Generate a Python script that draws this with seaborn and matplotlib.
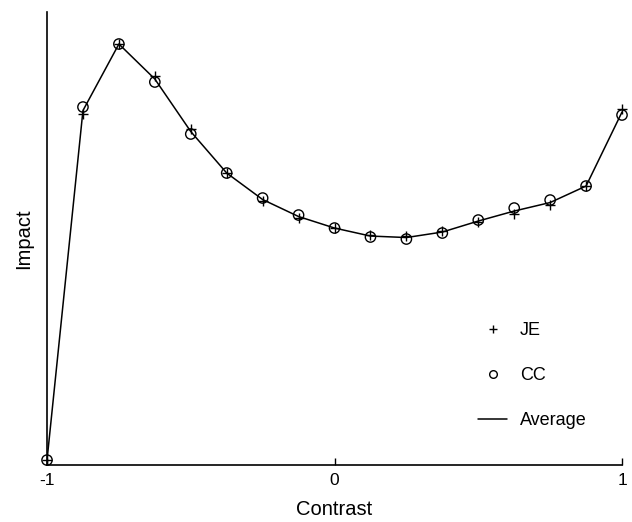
import numpy as np
import pandas as pd
import matplotlib
matplotlib.use("Agg")
import matplotlib.pyplot as plt
import seaborn as sns
from matplotlib.lines import Line2D

contrast = [-1, -0.875, -0.75, -0.625, -0.5, -0.375, -0.25, -0.125, 0,
            0.125, 0.25, 0.375, 0.5, 0.625, 0.75, 0.875, 1]
je = [0, 3.46, 4.16, 3.84, 3.31, 2.87, 2.59, 2.42, 2.32,
      2.25, 2.24, 2.29, 2.38, 2.46, 2.55, 2.74, 3.51]
cc = [0, 3.53, 4.16, 3.78, 3.26, 2.87, 2.62, 2.45, 2.32,
      2.23, 2.21, 2.27, 2.40, 2.52, 2.60, 2.74, 3.45]


def main():
    sns.set_style("ticks")
    plt.rcParams['font.family'] = ['Liberation Sans', 'DejaVu Sans']

    df = pd.DataFrame({'contrast': contrast, 'JE': je, 'CC': cc})
    df['Average'] = (df['JE'] + df['CC']) / 2

    fig = plt.figure(figsize=(6.32, 5.22), dpi=100)
    ax = fig.add_axes([0.0744, 0.110, 0.9098, 0.867])

    sns.lineplot(x='contrast', y='Average', data=df, color='black',
                 linewidth=1.1, ax=ax)
    sns.scatterplot(x='contrast', y='JE', data=df, marker='+', color='black',
                    s=60, linewidth=1.0, ax=ax, clip_on=False, zorder=4)
    ax.scatter(df['contrast'], df['CC'], marker='o', facecolors='none',
               edgecolors='black', s=55, linewidths=1.0, zorder=3, clip_on=False)

    ax.set_xlim(-1, 1)
    ax.set_ylim(-0.045, 4.48)
    ax.set_xticks([-1, 0, 1])
    ax.set_xticklabels(['-1', '0', '1'])
    ax.set_yticks([])
    ax.tick_params(axis='x', direction='in', length=5, width=1, labelsize=12.5,
                   pad=6, colors='black')
    sns.despine(ax=ax)
    for sp in ['left', 'bottom']:
        ax.spines[sp].set_linewidth(1.2)
        ax.spines[sp].set_color('black')

    ax.set_xlabel('Contrast', fontsize=14.5, labelpad=9, color='black')
    ax.set_ylabel('Impact', fontsize=14.5, labelpad=10, color='black')

    handles = [
        Line2D([], [], marker='+', color='black', linestyle='none', markersize=6),
        Line2D([], [], marker='o', markerfacecolor='none', markeredgecolor='black',
               linestyle='none', markersize=5.5),
        Line2D([], [], color='black', linewidth=1.1),
    ]
    ax.legend(handles, ['JE', 'CC', 'Average'], frameon=False, fontsize=13,
              loc='center left', bbox_to_anchor=(0.75, 0.196), borderpad=0,
              borderaxespad=0, handlelength=1.6, handletextpad=0.7,
              labelspacing=1.55, labelcolor='black')

    fig.savefig('out.png', dpi=100)


if __name__ == "__main__":
    main()
